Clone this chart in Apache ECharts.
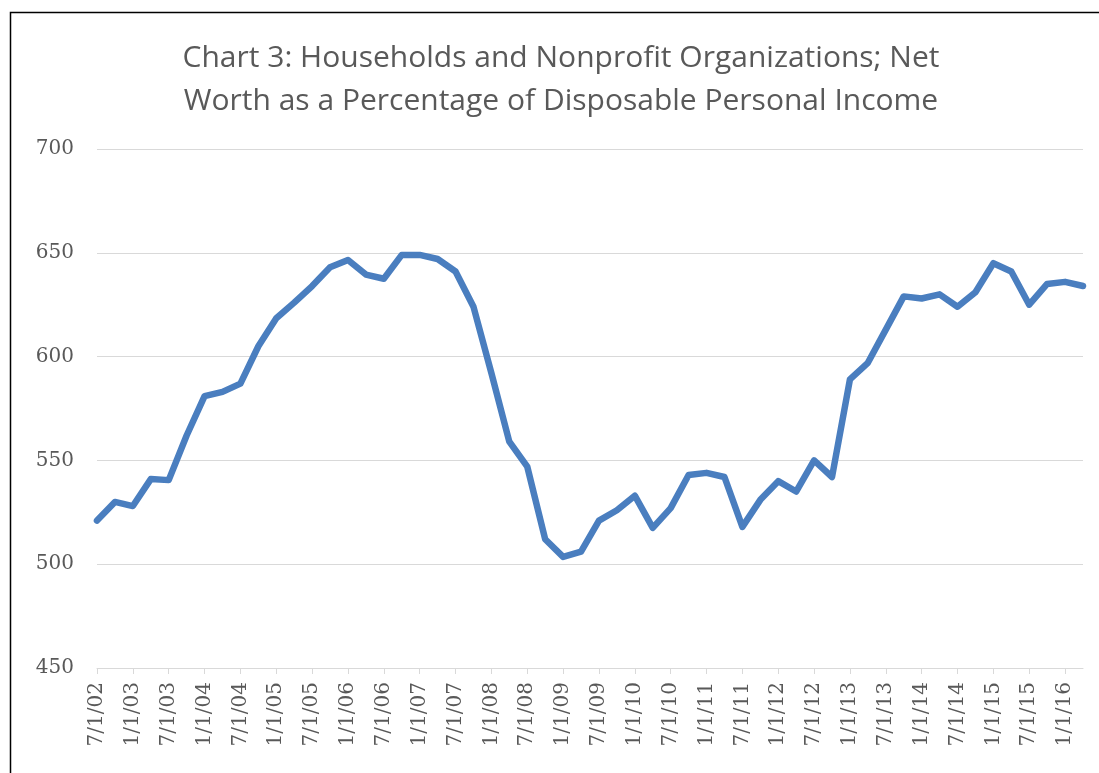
<!DOCTYPE html>
<html>
<head>
<meta charset="utf-8">
<script src="https://cdn.jsdelivr.net/npm/echarts@6/dist/echarts.min.js"></script>
<style>
  html, body { margin: 0; padding: 0; background: #fff; }
  #cpChart { width: 1099px; height: 773px; }
</style>
</head>
<body>
<div id="cpChart"></div>
<script>
// quarterly dates, 7/1/02 .. 4/1/16
var quarters = [
	'7/1/02', '10/1/02',
	'1/1/03', '4/1/03', '7/1/03', '10/1/03',
	'1/1/04', '4/1/04', '7/1/04', '10/1/04',
	'1/1/05', '4/1/05', '7/1/05', '10/1/05',
	'1/1/06', '4/1/06', '7/1/06', '10/1/06',
	'1/1/07', '4/1/07', '7/1/07', '10/1/07',
	'1/1/08', '4/1/08', '7/1/08', '10/1/08',
	'1/1/09', '4/1/09', '7/1/09', '10/1/09',
	'1/1/10', '4/1/10', '7/1/10', '10/1/10',
	'1/1/11', '4/1/11', '7/1/11', '10/1/11',
	'1/1/12', '4/1/12', '7/1/12', '10/1/12',
	'1/1/13', '4/1/13', '7/1/13', '10/1/13',
	'1/1/14', '4/1/14', '7/1/14', '10/1/14',
	'1/1/15', '4/1/15', '7/1/15', '10/1/15',
	'1/1/16', '4/1/16'
];

// net worth as % of disposable personal income
var netWorthPct = [
	521, 530,
	528, 541, 540.5, 562,
	581, 583, 587, 605,
	618.5, 626, 634, 643,
	646.5, 639.5, 637.5, 649,
	649, 647, 641, 624,
	592, 559, 547, 512,
	503.5, 506, 521, 526,
	533, 517.5, 527, 543,
	544, 542, 518, 531,
	540, 535, 550, 542,
	589, 597, 613, 629,
	628, 630, 624, 631,
	645, 641, 625, 635,
	636, 634
];

var yTicks = [450, 500, 550, 600, 650, 700];

var eChart = echarts.init(document.getElementById('cpChart'));

var eChartOption = {
	backgroundColor: '#ffffff',
	animation: false,
	title: {
		text: 'Chart 3: Households and Nonprofit Organizations; Net\nWorth as a Percentage of Disposable Personal Income',
		left: 561,
		top: 37,
		textAlign: 'center',
		padding: 0,
		textStyle: {
			fontFamily: 'Open Sans',
			fontWeight: 'normal',
			fontSize: 30,
			lineHeight: 43,
			color: '#595959'
		}
	},
	graphic: [
		{
			type: 'rect',
			left: 8,
			top: 10,
			shape: { width: 1200, height: 900 },
			style: { fill: 'none', stroke: '#000000', lineWidth: 1.5 },
			silent: true
		}
	],
	grid: {
		left: 97,
		right: 16,
		top: 149,
		bottom: 105,
		containLabel: false
	},
	xAxis: {
		type: 'category',
		data: quarters,
		boundaryGap: false,
		axisLine: { show: true, lineStyle: { color: '#d9d9d9', width: 1 } },
		axisTick: {
			show: true,
			interval: 1,
			length: 6,
			lineStyle: { color: '#d9d9d9' }
		},
		axisLabel: {
			interval: 1,
			rotate: 90,
			margin: 14,
			fontFamily: 'DejaVu Serif',
			fontSize: 20,
			color: '#595959'
		},
		splitLine: { show: false }
	},
	yAxis: {
		type: 'value',
		min: yTicks[0],
		max: yTicks[yTicks.length - 1],
		interval: 50,
		axisLine: { show: false },
		axisTick: { show: false },
		axisLabel: {
			margin: 23,
			fontFamily: 'DejaVu Serif',
			fontSize: 20,
			color: '#595959'
		},
		splitLine: { lineStyle: { color: '#d9d9d9', width: 1 } }
	},
	series: [
		{
			name: 'Net Worth % of DPI',
			type: 'line',
			data: netWorthPct,
			showSymbol: false,
			symbol: 'none',
			lineStyle: { color: '#4a7ebf', width: 6.5, join: 'round', cap: 'round' },
			itemStyle: { color: '#4a7ebf' }
		}
	]
};

eChart.setOption(eChartOption);
</script>
</body>
</html>
